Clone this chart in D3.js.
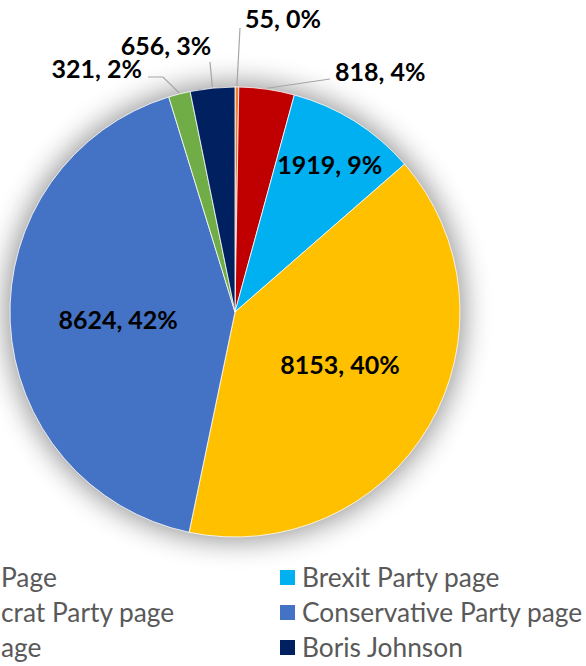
<!DOCTYPE html>
<html>
<head>
	<meta charset="utf-8">
	<title>Pie chart</title>
	<script src="https://d3js.org/d3.v7.min.js"></script>
	<style type="text/css">
		*
		{
			margin:0;
			padding:0;
		}
		body
		{
			background:#fff;
			overflow:hidden;
		}
		svg
		{
			display:block;
			font-family: Lato, "Open Sans", sans-serif;
		}
		.data-label
		{
			font-weight:bold;
			font-size:25px;
			fill:#000;
		}
		.legend-label
		{
			font-size:26.3px;
			fill:#595959;
		}
	</style>
</head>
<body>
	<div id="chart"></div>
	<script>
		// slices, clockwise from 12 o'clock
		const categories = ["Other page", "Labour Party Page", "Brexit Party page", "Liberal Democrat Party page",
			"Conservative Party page", "Green Party page", "Boris Johnson"];
		const values = [55, 818, 1919, 8153, 8624, 321, 656];
		const percentLabels = ["0%", "4%", "9%", "40%", "42%", "2%", "3%"];
		const colors = ["#ED7D31", "#C00000", "#00B0F0", "#FFC000", "#4472C4", "#70AD47", "#002060"];

		// legend rows (left, right); the left column is cut by the picture's edge,
		// so only the visible end of those names is shown
		const legendOrder = [[1, 2], [3, 4], [5, 6]];
		const legendText = [["Page", "Brexit Party page"], ["crat Party page", "Conservative Party page"], ["age", "Boris Johnson"]];

		const width = 586;
		const height = 666;
		const cx = 235;
		const cy = 312;
		const radius = 225;

		// label placement (inside: fraction of radius + nudge; outside: anchor + leader points, relative to centre)
		const labelLayout = [
			{ out: true, tx: 10, ty: -293, anchor: "start", line: [[5, -284]] },
			{ out: true, tx: 100, ty: -240, anchor: "start", line: [[95, -233]] },
			{ out: false, r: 0.775, dx: 2, dy: 1 },
			{ out: false, r: 0.52, dx: 4, dy: -6 },
			{ out: false, r: 0.52, dx: 0, dy: 3 },
			{ out: true, tx: -93, ty: -243, anchor: "end", line: [[-72, -235], [-87, -235]] },
			{ out: true, tx: -69, ty: -266, anchor: "middle", line: [[-25, -250]] }
		];

		const svg = d3.select("#chart").append("svg")
			.attr("width", width)
			.attr("height", height);

		const defs = svg.append("defs");
		const shadow = defs.append("filter")
			.attr("id", "shadow")
			.attr("x", "-30%").attr("y", "-30%")
			.attr("width", "160%").attr("height", "160%");
		shadow.append("feGaussianBlur").attr("in", "SourceAlpha").attr("stdDeviation", 14);
		shadow.append("feComponentTransfer").append("feFuncA").attr("type", "linear").attr("slope", 0.42);

		const g = svg.append("g").attr("transform", "translate(" + cx + "," + cy + ")");

		g.append("circle")
			.attr("r", radius + 4)
			.attr("fill", "#000")
			.attr("filter", "url(#shadow)");

		const pie = d3.pie().sort(null).value(d => d)(values);
		const arc = d3.arc().innerRadius(0).outerRadius(radius);

		g.selectAll("path.slice")
			.data(pie)
			.enter()
			.append("path")
			.attr("class", "slice")
			.attr("d", arc)
			.attr("fill", (d, i) => colors[i])
			.attr("stroke", "#fff")
			.attr("stroke-width", 0.8);

		pie.forEach((d, i) => {
			const lay = labelLayout[i];
			const mid = (d.startAngle + d.endAngle) / 2;
			const text = values[i] + ", " + percentLabels[i];
			if (!lay.out) {
				const r = radius * lay.r;
				g.append("text")
					.attr("class", "data-label")
					.attr("x", Math.sin(mid) * r + lay.dx)
					.attr("y", -Math.cos(mid) * r + lay.dy)
					.attr("dy", "0.35em")
					.attr("text-anchor", "middle")
					.text(text);
			} else {
				const start = [Math.sin(mid) * (radius + 1), -Math.cos(mid) * (radius + 1)];
				const pts = [start].concat(lay.line);
				g.append("path")
					.attr("d", d3.line()(pts))
					.attr("fill", "none")
					.attr("stroke", "#A6A6A6")
					.attr("stroke-width", 1.2);
				g.append("text")
					.attr("class", "data-label")
					.attr("x", lay.tx)
					.attr("y", lay.ty)
					.attr("dy", "0.35em")
					.attr("text-anchor", lay.anchor)
					.text(text);
			}
		});

		// legend
		const legend = svg.append("g").attr("id", "legend");
		const rowY = [578, 613, 648];
		legendOrder.forEach((row, r) => {
			// right column: swatch + name
			legend.append("rect")
				.attr("x", 280)
				.attr("y", rowY[r] - 8)
				.attr("width", 15)
				.attr("height", 15)
				.attr("fill", colors[row[1]]);
			legend.append("text")
				.attr("class", "legend-label")
				.attr("x", 302)
				.attr("y", rowY[r])
				.attr("dy", "0.35em")
				.text(legendText[r][1]);
			// left column: visible tail of the name only
			legend.append("text")
				.attr("class", "legend-label")
				.attr("x", 1)
				.attr("y", rowY[r])
				.attr("dy", "0.35em")
				.text(legendText[r][0]);
		});
	</script>
</body>
</html>
